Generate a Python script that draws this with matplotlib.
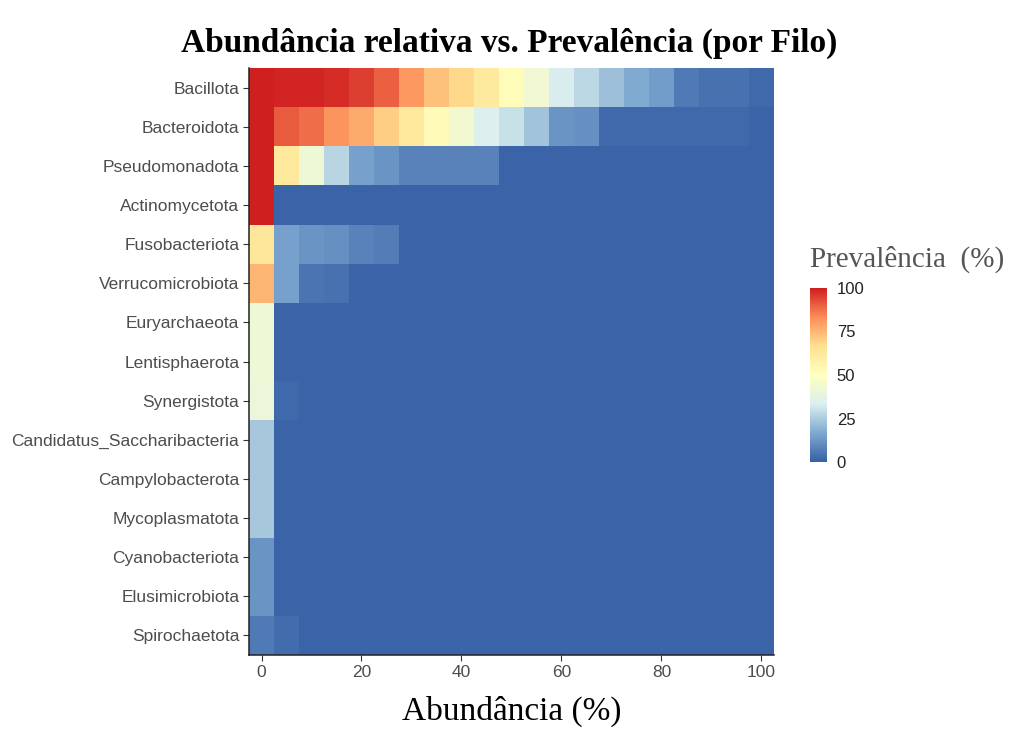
import numpy as np
import matplotlib.pyplot as plt
from matplotlib.colors import LinearSegmentedColormap

# phyla, top to bottom
phyla = ['Bacillota', 'Bacteroidota', 'Pseudomonadota', 'Actinomycetota',
         'Fusobacteriota', 'Verrucomicrobiota', 'Euryarchaeota', 'Lentisphaerota',
         'Synergistota', 'Candidatus_Saccharibacteria', 'Campylobacterota',
         'Mycoplasmatota', 'Cyanobacteriota', 'Elusimicrobiota', 'Spirochaetota']

# abundance thresholds (%)
abundance = list(range(0, 101, 5))

# prevalence (%) per phylum at each abundance threshold
bacillota = [100, 99, 99, 98, 95, 90, 81, 73, 68, 61, 52, 43, 33, 28, 22, 17, 14, 6, 4, 4, 2]
bacteroidota = [100, 91, 88, 82, 77, 70, 62, 53, 44, 34, 30, 23, 12, 11, 2, 2, 2, 2, 2, 2, 1]
pseudomonadota = [100, 62, 42, 27, 15, 12, 8, 8, 8, 8, 1, 1, 1, 1, 1, 1, 1, 1, 1, 1, 1]
actinomycetota = [100, 1, 1, 1, 1, 1, 1, 1, 1, 1, 1, 1, 1, 1, 1, 1, 1, 1, 1, 1, 1]
fusobacteriota = [63, 15, 12, 11, 8, 7, 1, 1, 1, 1, 1, 1, 1, 1, 1, 1, 1, 1, 1, 1, 1]
verrucomicrobiota = [75, 15, 5, 4, 1, 1, 1, 1, 1, 1, 1, 1, 1, 1, 1, 1, 1, 1, 1, 1, 1]
euryarchaeota = [42, 1, 1, 1, 1, 1, 1, 1, 1, 1, 1, 1, 1, 1, 1, 1, 1, 1, 1, 1, 1]
lentisphaerota = [42, 1, 1, 1, 1, 1, 1, 1, 1, 1, 1, 1, 1, 1, 1, 1, 1, 1, 1, 1, 1]
synergistota = [41, 2, 1, 1, 1, 1, 1, 1, 1, 1, 1, 1, 1, 1, 1, 1, 1, 1, 1, 1, 1]
saccharibacteria = [24, 1, 1, 1, 1, 1, 1, 1, 1, 1, 1, 1, 1, 1, 1, 1, 1, 1, 1, 1, 1]
campylobacterota = [24, 1, 1, 1, 1, 1, 1, 1, 1, 1, 1, 1, 1, 1, 1, 1, 1, 1, 1, 1, 1]
mycoplasmatota = [24, 1, 1, 1, 1, 1, 1, 1, 1, 1, 1, 1, 1, 1, 1, 1, 1, 1, 1, 1, 1]
cyanobacteriota = [12, 1, 1, 1, 1, 1, 1, 1, 1, 1, 1, 1, 1, 1, 1, 1, 1, 1, 1, 1, 1]
elusimicrobiota = [12, 1, 1, 1, 1, 1, 1, 1, 1, 1, 1, 1, 1, 1, 1, 1, 1, 1, 1, 1, 1]
spirochaetota = [6, 3, 1, 1, 1, 1, 1, 1, 1, 1, 1, 1, 1, 1, 1, 1, 1, 1, 1, 1, 1]

prev = np.array([bacillota, bacteroidota, pseudomonadota, actinomycetota,
                 fusobacteriota, verrucomicrobiota, euryarchaeota, lentisphaerota,
                 synergistota, saccharibacteria, campylobacterota, mycoplasmatota,
                 cyanobacteriota, elusimicrobiota, spirochaetota])

# RdYlBu (7 classes, reversed) like ggplot's distiller
cmap = LinearSegmentedColormap.from_list(
    'rdylbu7', ['#3760a6', '#7fa9d0', '#dcefef', '#ffffbf', '#fee090', '#fc8d59', '#d01f1f'])

fig = plt.figure(figsize=(10.18, 7.33), dpi=100)
ax = fig.add_axes([0.2446, 0.1064, 0.5157, 0.8008])

step = abundance[1] - abundance[0]
x_edges = np.append(np.array(abundance) - step / 2, abundance[-1] + step / 2)
y_edges = np.arange(len(phyla) + 1) - 0.5
mesh = ax.pcolormesh(x_edges, y_edges, prev, cmap=cmap, vmin=0, vmax=100)
ax.set_ylim(len(phyla) - 0.5, -0.5)
ax.set_xlim(x_edges[0], x_edges[-1])

ax.set_yticks(range(len(phyla)))
ax.set_yticklabels(phyla, fontsize=12.5, color='#4d4d4d', family='Liberation Sans')
ax.set_xticks([0, 20, 40, 60, 80, 100])
ax.tick_params(axis='x', labelsize=12.5, labelcolor='#4d4d4d', length=4, color='#333333')
ax.tick_params(axis='y', length=4, color='#333333', pad=3)
for lab in ax.get_xticklabels():
    lab.set_family('Liberation Sans')
for side in ['top', 'right']:
    ax.spines[side].set_visible(False)
for side in ['left', 'bottom']:
    ax.spines[side].set_linewidth(1.1)
    ax.spines[side].set_color('#222222')

ax.set_xlabel('Abundância (%)', fontsize=24, family='Liberation Serif', labelpad=11)
fig.suptitle('Abundância relativa vs. Prevalência (por Filo)', x=0.5, y=0.962,
             fontsize=24, fontweight='bold', family='Liberation Serif')

cax = fig.add_axes([0.7957, 0.3697, 0.0167, 0.2374])
cb = fig.colorbar(mesh, cax=cax, ticks=[0, 25, 50, 75, 100])
cb.outline.set_visible(False)
cb.ax.tick_params(labelsize=12, length=0, labelcolor='#222222', pad=7)
for lab in cb.ax.get_yticklabels():
    lab.set_family('Liberation Sans')
fig.text(0.7957, 0.627, 'Prevalência  (%)', fontsize=21, family='Liberation Serif',
         color='#555555', ha='left', va='bottom')

fig.savefig('out.png', dpi=100)
